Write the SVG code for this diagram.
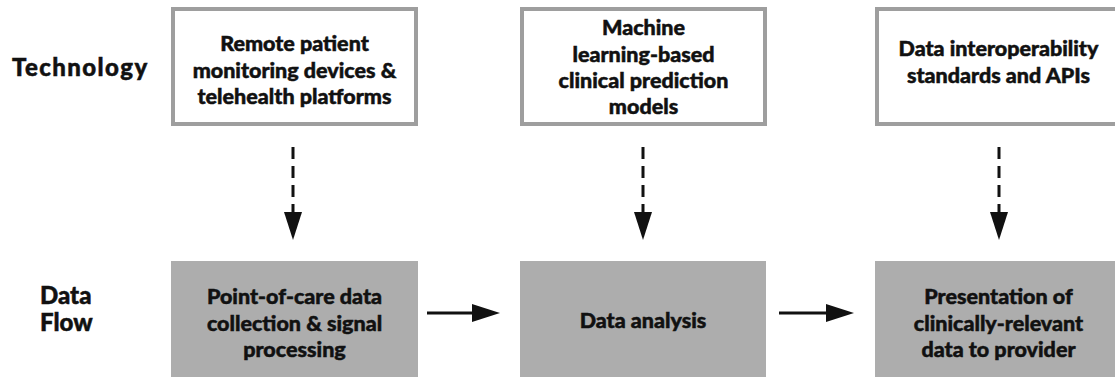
<svg xmlns="http://www.w3.org/2000/svg" width="1115" height="377" viewBox="0 0 1115 377">
  <defs>
    <style>
      .lbl { font-family: Lato, "Liberation Sans", sans-serif; font-weight: 900; fill: #111; stroke: #111; stroke-width: 0.5; }
      .row { font-size: 24px; }
      .txt { font-size: 21.5px; text-anchor: middle; }
      .tech { fill: #fff; stroke: #9e9e9e; stroke-width: 4; }
      .flow { fill: #adadad; stroke: none; }
      .dash { stroke: #111; stroke-width: 3; stroke-dasharray: 12 7; fill: none; }
      .solid { stroke: #111; stroke-width: 3; fill: none; }
      .head { fill: #111; }
    </style>
  </defs>

  <rect width="1115" height="377" fill="#fff"/>

  <!-- row headings -->
  <g id="row-technology">
    <text class="lbl row" x="12" y="76" letter-spacing="1.4">Technology</text>
  </g>
  <g id="row-dataflow">
    <text class="lbl row" x="40" y="304">Data</text>
    <text class="lbl row" x="40" y="331">Flow</text>
  </g>

  <!-- technology layer -->
  <g id="tech-rpm">
    <rect class="tech" x="173" y="9" width="243" height="115"/>
    <text class="lbl txt" x="294.5" y="51">Remote patient</text>
    <text class="lbl txt" x="294.5" y="78">monitoring devices &amp;</text>
    <text class="lbl txt" x="294.5" y="104">telehealth platforms</text>
  </g>
  <g id="tech-ml">
    <rect class="tech" x="522" y="9" width="243" height="115"/>
    <text class="lbl txt" x="643.5" y="35">Machine</text>
    <text class="lbl txt" x="643.5" y="62">learning-based</text>
    <text class="lbl txt" x="643.5" y="88">clinical prediction</text>
    <text class="lbl txt" x="643.5" y="114">models</text>
  </g>
  <g id="tech-interop">
    <rect class="tech" x="877" y="9" width="243" height="115"/>
    <text class="lbl txt" x="998.5" y="56">Data interoperability</text>
    <text class="lbl txt" x="998.5" y="83">standards and APIs</text>
  </g>

  <!-- data flow layer -->
  <g id="flow-collect">
    <rect class="flow" x="171" y="261" width="247" height="116"/>
    <text class="lbl txt" x="294.5" y="304">Point-of-care data</text>
    <text class="lbl txt" x="294.5" y="331">collection &amp; signal</text>
    <text class="lbl txt" x="294.5" y="357">processing</text>
  </g>
  <g id="flow-analysis">
    <rect class="flow" x="520" y="261" width="246" height="116"/>
    <text class="lbl txt" x="643" y="328">Data analysis</text>
  </g>
  <g id="flow-present">
    <rect class="flow" x="875" y="261" width="247" height="116"/>
    <text class="lbl txt" x="998.5" y="304">Presentation of</text>
    <text class="lbl txt" x="998.5" y="331">clinically-relevant</text>
    <text class="lbl txt" x="998.5" y="357">data to provider</text>
  </g>

  <!-- connectors -->
  <g id="connectors">
    <line class="dash" x1="293" y1="147" x2="293" y2="212"/>
    <path class="head" d="M284,212 L302,212 L293,240 z"/>
    <line class="dash" x1="643" y1="147" x2="643" y2="212"/>
    <path class="head" d="M634,212 L652,212 L643,240 z"/>
    <line class="dash" x1="999" y1="147" x2="999" y2="212"/>
    <path class="head" d="M990,212 L1008,212 L999,240 z"/>

    <line class="solid" x1="427" y1="313" x2="474" y2="313"/>
    <path class="head" d="M472,304 L500,313 L472,322 z"/>
    <line class="solid" x1="779" y1="313" x2="828" y2="313"/>
    <path class="head" d="M826,304 L854,313 L826,322 z"/>
  </g>
</svg>
